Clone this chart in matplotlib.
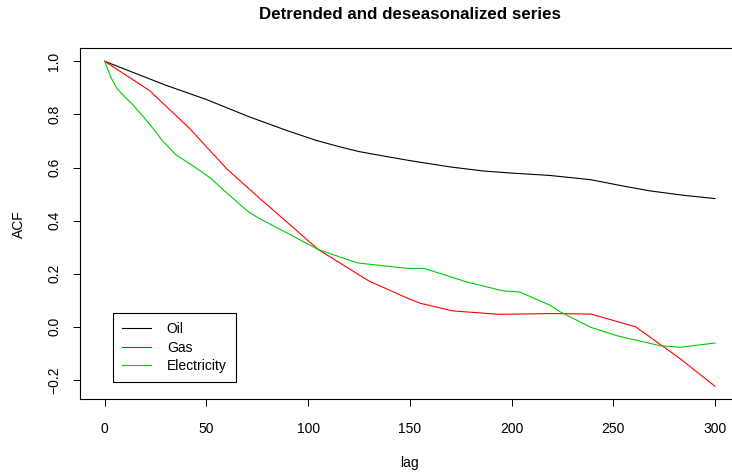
import numpy as np
import matplotlib
matplotlib.use("Agg")
import matplotlib.pyplot as plt

plt.rcParams['font.family'] = ['Liberation Sans', 'DejaVu Sans']

# autocorrelation of the three detrended/deseasonalized series, read at selected lags
oil_lag = [0, 30, 50, 71, 90, 104, 115, 125, 138, 150, 170, 186, 200, 219, 239,
           255, 268, 285, 300]
oil_acf = [1.0, 0.91, 0.856, 0.791, 0.738, 0.702, 0.679, 0.66, 0.642, 0.626,
           0.602, 0.587, 0.579, 0.57, 0.554, 0.53, 0.512, 0.495, 0.483]

gas_lag = [0, 22, 42, 60, 76, 88, 105, 130, 150, 155, 171, 194, 220, 239, 261, 282, 300]
gas_acf = [1.0, 0.89, 0.745, 0.595, 0.485, 0.405, 0.291, 0.172, 0.104, 0.089,
           0.06, 0.047, 0.05, 0.048, 0.0, -0.115, -0.224]

elec_lag = [0, 3, 6, 10, 14, 19, 24, 28, 35, 45, 52, 60, 71, 76, 88, 105, 124,
            145, 150, 157, 178, 196, 204, 219, 224, 239, 252, 273, 283, 300]
elec_acf = [1.0, 0.94, 0.898, 0.865, 0.835, 0.791, 0.745, 0.704, 0.648, 0.598,
            0.56, 0.504, 0.431, 0.408, 0.36, 0.291, 0.241, 0.223, 0.22, 0.22,
            0.169, 0.135, 0.131, 0.081, 0.056, -0.002, -0.034, -0.071, -0.077,
            -0.061]

series = [("Oil", oil_lag, oil_acf, "black"),
          ("Gas", gas_lag, gas_acf, "#FF0000"),
          ("Electricity", elec_lag, elec_acf, "#00CD00")]

W, H = 732, 476
fs = 10
fig = plt.figure(figsize=(W / 100, H / 100), dpi=100)
# plot region in pixels: left 80, right 739 (runs off the canvas), top 48, bottom 399
ax = fig.add_axes([80.3 / W, (H - 399.3) / H, (739.4 - 80.3) / W, (399.3 - 48.3) / H])

for name, x, y, c in series:
    ax.plot(x, y, color=c, lw=0.8, label=name)

# R-style 4% padding on both axes
ymin = min(min(s[2]) for s in series)
ymax = max(max(s[2]) for s in series)
ypad = 0.04 * (ymax - ymin)
ax.set_xlim(-0.04 * 300, 300 * 1.04)
ax.set_ylim(ymin - ypad, ymax + ypad)

ax.set_xticks([0, 50, 100, 150, 200, 250, 300])
ax.set_yticks([-0.2, 0.0, 0.2, 0.4, 0.6, 0.8, 1.0])
ax.set_yticklabels(["\u22120.2", "0.0", "0.2", "0.4", "0.6", "0.8", "1.0"],
                   rotation=90, va="center")
ax.tick_params(axis="both", direction="out", length=5.2, width=0.7, labelsize=fs,
               color="black")
ax.tick_params(axis="x", pad=11.5)
ax.tick_params(axis="y", pad=8.5)
for sp in ax.spines.values():
    sp.set_linewidth(0.8)

ax.set_xlabel("lag", fontsize=fs, va="center")
ax.xaxis.set_label_coords(0.5, -(463 - 399.3) / 351)
ax.set_ylabel("ACF", fontsize=fs, va="center")
ax.yaxis.set_label_coords(-(80.3 - 19) / 659.1, 0.5)

ax.set_title("Detrended and deseasonalized series", fontsize=12.2,
             fontweight="bold", pad=21)

leg = ax.legend(loc="lower left", bbox_to_anchor=(113.3 / W, (H - 381.7) / H),
                bbox_transform=fig.transFigure, borderaxespad=0, fontsize=fs,
                fancybox=False, framealpha=1, edgecolor="black",
                handlelength=2.1, handletextpad=1.1, labelspacing=0.3,
                borderpad=0.65)
leg.get_frame().set_linewidth(0.8)

fig.savefig("out.png", dpi=100)
